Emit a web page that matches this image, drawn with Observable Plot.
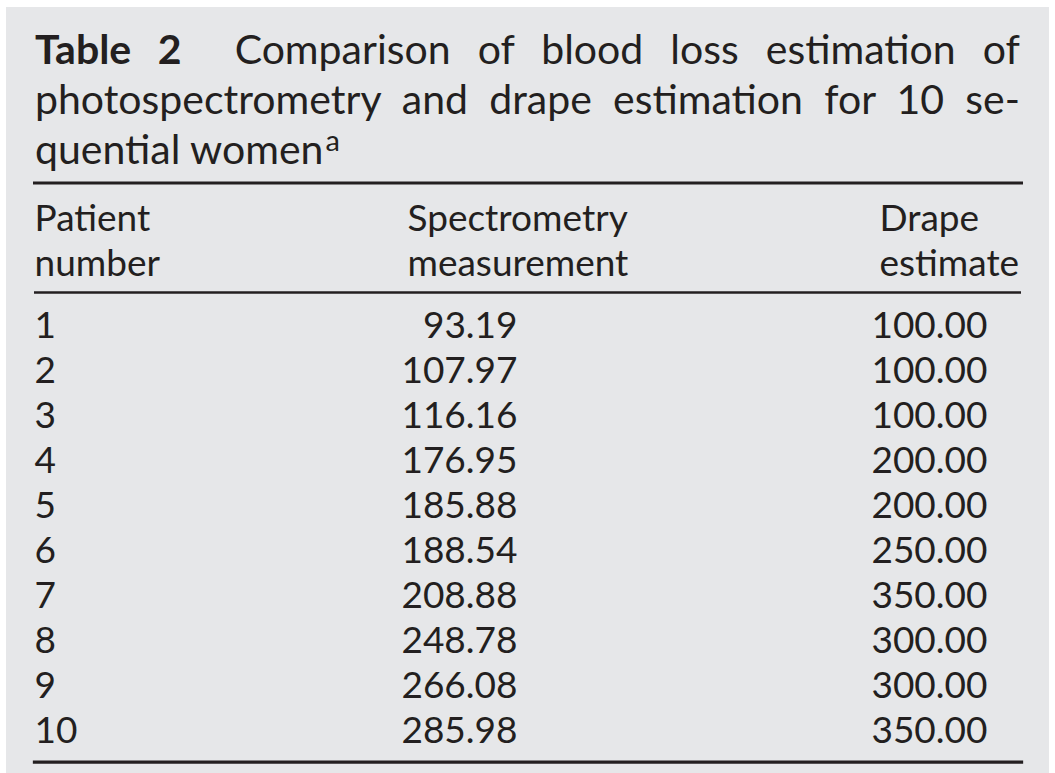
<!DOCTYPE html>
<html>
<head>
<meta charset="utf-8">
<script src="https://cdn.jsdelivr.net/npm/d3@7"></script>
<script src="https://cdn.jsdelivr.net/npm/@observablehq/plot@0.6"></script>
<style>
  html, body { margin: 0; padding: 0; background: #ffffff; }
  #page { position: relative; width: 1055px; height: 773px; overflow: hidden; background: #ffffff; }
  #panel { position: absolute; left: 6px; top: 7px; width: 1043px; height: 766px; background: #e6e7e9; }
  #title { position: absolute; left: 35px; top: 24px; width: 985px; font-family: Lato, "Open Sans", sans-serif;
           font-size: 41px; line-height: 50px; color: #231f20; }
  #title .j { text-align: justify; text-align-last: justify; }
  #title b { font-weight: 700; margin-right: 26px; }
  #title .sup { font-size: 29px; position: relative; top: -13px; margin-left: 2px; }
  #chart { position: absolute; left: 0; top: 160px; }
</style>
</head>
<body>
<div id="page">
  <div id="panel"></div>
  <div id="title">
    <div class="j"><b>Table 2</b> Comparison of blood loss estimation of</div>
    <div class="j">photospectrometry and drape estimation for 10 se-</div>
    <div>quential women<span class="sup">a</span></div>
  </div>
  <div id="chart"></div>
</div>
<script>
// ---- data ----
const patients = ["1", "2", "3", "4", "5", "6", "7", "8", "9", "10"];
const spectrometry = [93.19, 107.97, 116.16, 176.95, 185.88, 188.54, 208.88, 248.78, 266.08, 285.98];
const drapeEstimate = [100, 100, 100, 200, 200, 250, 350, 300, 300, 350];
const headers = ["Patient\nnumber", "Spectrometry\nmeasurement", "Drape\nestimate"];

// ---- layout ----
const ink = "#231f20";
const FS = 37;
const colStart = [34, 407, 879];
const specEnd = 517;
const drapeEnd = 987;

const rows = patients.map((p, i) => ({patient: p, spec: spectrometry[i], drape: drapeEstimate[i]}));
const fmt = d3.format(".2f");
const common = {fontSize: FS, fill: ink, lineAnchor: "bottom"};

const chart = Plot.plot({
  width: 1055,
  height: 613,
  marginTop: 22.5,
  marginBottom: 11.3,
  marginLeft: 34,
  marginRight: 34,
  insetTop: 105.8,
  insetBottom: 16.7,
  x: {type: "identity", axis: null},
  y: {type: "point", domain: ["header", ...patients], padding: 0, axis: null},
  style: {background: "transparent", fontFamily: "Lato, 'Open Sans', sans-serif", color: ink},
  marks: [
    Plot.frame({anchor: "top", stroke: ink, strokeWidth: 3}),
    Plot.frame({anchor: "bottom", stroke: ink, strokeWidth: 3.3}),
    Plot.ruleY(["header"], {y: d => d, stroke: ink, strokeWidth: 2.7}),
    Plot.text(headers, {x: (d, i) => colStart[i], y: () => "header", text: d => d,
      textAnchor: "start", lineHeight: 45 / FS, dy: -17, ...common}),
    Plot.text(rows, {x: colStart[0], y: "patient", text: "patient", textAnchor: "start", ...common}),
    Plot.text(rows, {x: specEnd, y: "patient", text: d => fmt(d.spec), textAnchor: "end", ...common}),
    Plot.text(rows, {x: drapeEnd, y: "patient", text: d => fmt(d.drape), textAnchor: "end", ...common})
  ]
});
document.getElementById("chart").appendChild(chart);
</script>
</body>
</html>
